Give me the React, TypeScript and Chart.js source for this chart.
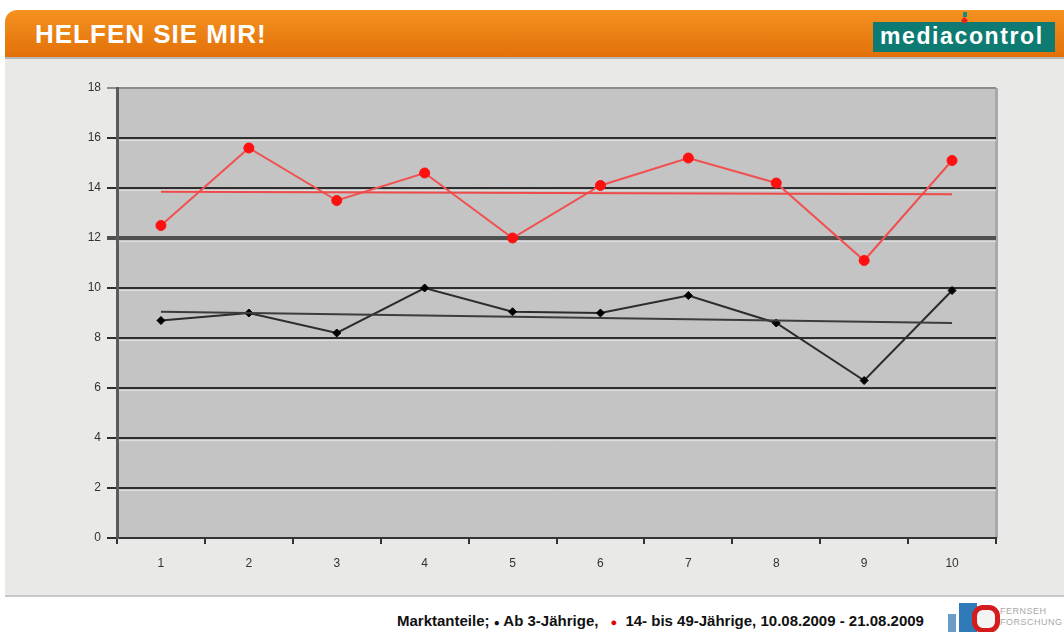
import React, { useEffect, useRef } from "react";
import { Chart, registerables } from "chart.js";

Chart.register(...registerables);

// ---- data ----
const categories = ["1", "2", "3", "4", "5", "6", "7", "8", "9", "10"];
const ab3Values = [8.7, 9.0, 8.2, 10.0, 9.05, 9.0, 9.7, 8.6, 6.3, 9.9];
const age14to49Values = [12.5, 15.6, 13.5, 14.6, 12.0, 14.1, 15.2, 14.2, 11.1, 15.1];
const ab3Trend = [9.05, null, null, null, null, null, null, null, null, 8.6];
const age14to49Trend = [13.85, null, null, null, null, null, null, null, null, 13.75];
const yMin = 0;
const yMax = 18;
const yStep = 2;
const titleText = "HELFEN SIE MIR!";
const footerParts = ["Marktanteile; ", " Ab 3-Jährige, ", " 14- bis 49-Jährige, 10.08.2009 - 21.08.2009"];

const FONT = "'Liberation Sans', Arial, sans-serif";

const plotPlugin = {
  id: "plotBg",
  beforeDraw(chart: any) {
    const { ctx, chartArea: a } = chart;
    ctx.save();
    ctx.fillStyle = "#c4c4c4";
    ctx.fillRect(a.left, a.top, a.right - a.left, a.bottom - a.top);
    // right edge shading
    ctx.fillStyle = "#a9a9a9";
    ctx.fillRect(a.right - 1, a.top, 3, a.bottom - a.top);
    ctx.restore();
  },
  beforeDatasetsDraw(chart: any) {
    const { ctx, chartArea: a } = chart;
    const y = chart.scales.y;
    ctx.save();
    ctx.strokeStyle = "rgba(225,225,225,0.9)";
    ctx.lineWidth = 1;
    for (let v = yMin + yStep; v < yMax; v += yStep) {
      const py = Math.round(y.getPixelForValue(v)) + (v === 12 ? 3.5 : 2.5);
      ctx.beginPath();
      ctx.moveTo(a.left + 2, py);
      ctx.lineTo(a.right, py);
      ctx.stroke();
    }
    ctx.restore();
  },
};

function ChartCanvas() {
  const ref = useRef<HTMLCanvasElement | null>(null);
  useEffect(() => {
    if (!ref.current) return;
    const chart = new Chart(ref.current, {
      type: "line",
      data: {
        labels: categories,
        datasets: [
          {
            label: "14- bis 49-Jährige Trend",
            data: age14to49Trend,
            borderColor: "#ee4a4a",
            borderWidth: 2,
            pointRadius: 0,
            spanGaps: true,
          },
          {
            label: "Ab 3-Jährige Trend",
            data: ab3Trend,
            borderColor: "#3c3c3c",
            borderWidth: 2,
            pointRadius: 0,
            spanGaps: true,
          },
          {
            label: "14- bis 49-Jährige",
            data: age14to49Values,
            borderColor: "#f25050",
            borderWidth: 2,
            pointRadius: 5,
            pointBackgroundColor: "#ff1010",
            pointBorderColor: "#ff1010",
            pointBorderWidth: 1,
          },
          {
            label: "Ab 3-Jährige",
            data: ab3Values,
            borderColor: "#2c2c2c",
            borderWidth: 2,
            pointStyle: "rectRot",
            pointRadius: 4,
            pointBackgroundColor: "#000",
            pointBorderColor: "#000",
            pointBorderWidth: 1,
          },
        ],
      },
      options: {
        responsive: false,
        animation: false,
        layout: { padding: { left: 0, top: 29, right: 68, bottom: 0 } },
        plugins: {
          legend: { display: false },
          tooltip: { enabled: false },
          title: { display: false },
        },
        scales: {
          x: {
            afterFit: (s: any) => {
              s.height = 59;
            },
            offset: true,
            grid: {
              offset: true,
              drawOnChartArea: false,
              drawTicks: true,
              tickLength: 6,
              color: "#333",
              lineWidth: 2,
            },
            border: { color: "#333", width: 2 },
            ticks: {
              color: "#333",
              font: { family: FONT, size: 12 },
              padding: 12,
            },
          },
          y: {
            afterFit: (s: any) => {
              s.width = 112;
            },
            min: yMin,
            max: yMax,
            ticks: {
              stepSize: yStep,
              color: "#333",
              font: { family: FONT, size: 12 },
              padding: 6,
            },
            grid: {
              tickLength: 10,
              color: (c: any) => {
                const v = c.tick?.value;
                if (v === yMax) return "#8c8c8c";
                if (v === 12) return "#505050";
                return "#2e2e2e";
              },
              lineWidth: (c: any) => {
                const v = c.tick?.value;
                if (v === 12) return 4;
                return 2;
              },
            },
            border: { color: "#5a5a5a", width: 3 },
          },
        },
      },
      plugins: [plotPlugin],
    });
    return () => chart.destroy();
  }, []);
  return <canvas ref={ref} width={1059} height={538} style={{ display: "block" }} />;
}

export default function App() {
  return (
    <div
      style={{
        position: "absolute",
        left: 0,
        top: 0,
        width: 1064,
        height: 632,
        background: "#fff",
        overflow: "hidden",
        fontFamily: FONT,
      }}
    >
      {/* header */}
      <div
        style={{
          position: "absolute",
          left: 5,
          top: 10,
          width: 1059,
          height: 47,
          borderTopLeftRadius: 12,
          background: "linear-gradient(#f59220, #e27008)",
        }}
      />
      <div
        style={{
          position: "absolute",
          left: 35,
          top: 19,
          color: "#fff",
          fontWeight: "bold",
          fontSize: 26,
          letterSpacing: 1,
          lineHeight: "30px",
          whiteSpace: "nowrap",
        }}
      >
        {titleText}
      </div>
      {/* logo */}
      <div
        style={{
          position: "absolute",
          left: 873,
          top: 22,
          width: 182,
          height: 30,
          background: "#0d7b72",
        }}
      />
      <div
        style={{
          position: "absolute",
          left: 880,
          top: 22,
          color: "#fff",
          fontWeight: "bold",
          fontSize: 23,
          letterSpacing: 1.6,
          lineHeight: "28px",
          whiteSpace: "nowrap",
        }}
      >
        media<span>control</span>
      </div>
      <div style={{ position: "absolute", left: 963, top: 12, width: 4, height: 5, background: "#1a8a7a" }} />
      <div
        style={{
          position: "absolute",
          left: 962,
          top: 18,
          width: 5,
          height: 5,
          background: "#e02020",
          transform: "rotate(45deg)",
        }}
      />
      {/* panel */}
      <div
        style={{
          position: "absolute",
          left: 5,
          top: 57,
          width: 1059,
          height: 540,
          background: "#e9e9e7",
          borderTop: "2px solid #b8b8b8",
          borderBottom: "2px solid #c8c8c8",
          boxSizing: "border-box",
        }}
      />
      <div style={{ position: "absolute", left: 5, top: 59 }}>
        <ChartCanvas />
      </div>
      {/* footer */}
      <div
        style={{
          position: "absolute",
          left: 397,
          top: 612,
          fontSize: 15,
          fontWeight: "bold",
          color: "#111",
          letterSpacing: 0,
          whiteSpace: "nowrap",
          lineHeight: "18px",
        }}
      >
        {footerParts[0]}
        <span style={{ fontSize: 10 }}>●</span>
        {footerParts[1]}
        <span style={{ color: "#e00000", fontSize: 11, margin: "0 4px 0 8px" }}>●</span>
        {footerParts[2]}
      </div>
      {/* bottom-right logo */}
      <div style={{ position: "absolute", left: 948, top: 614, width: 8, height: 18, background: "#6a9cc8" }} />
      <div style={{ position: "absolute", left: 959, top: 603, width: 18, height: 29, background: "#2f7ab8" }} />
      <div
        style={{
          position: "absolute",
          left: 972,
          top: 605,
          width: 18,
          height: 18,
          borderRadius: 11,
          border: "5px solid #d41c1c",
          background: "#f4f4f4",
        }}
      />
      <div
        style={{
          position: "absolute",
          left: 1000,
          top: 606,
          fontSize: 9,
          lineHeight: "11px",
          color: "#a8a8a8",
          letterSpacing: 0.5,
          whiteSpace: "nowrap",
        }}
      >
        FERNSEH
        <br />
        FORSCHUNG
      </div>
    </div>
  );
}
